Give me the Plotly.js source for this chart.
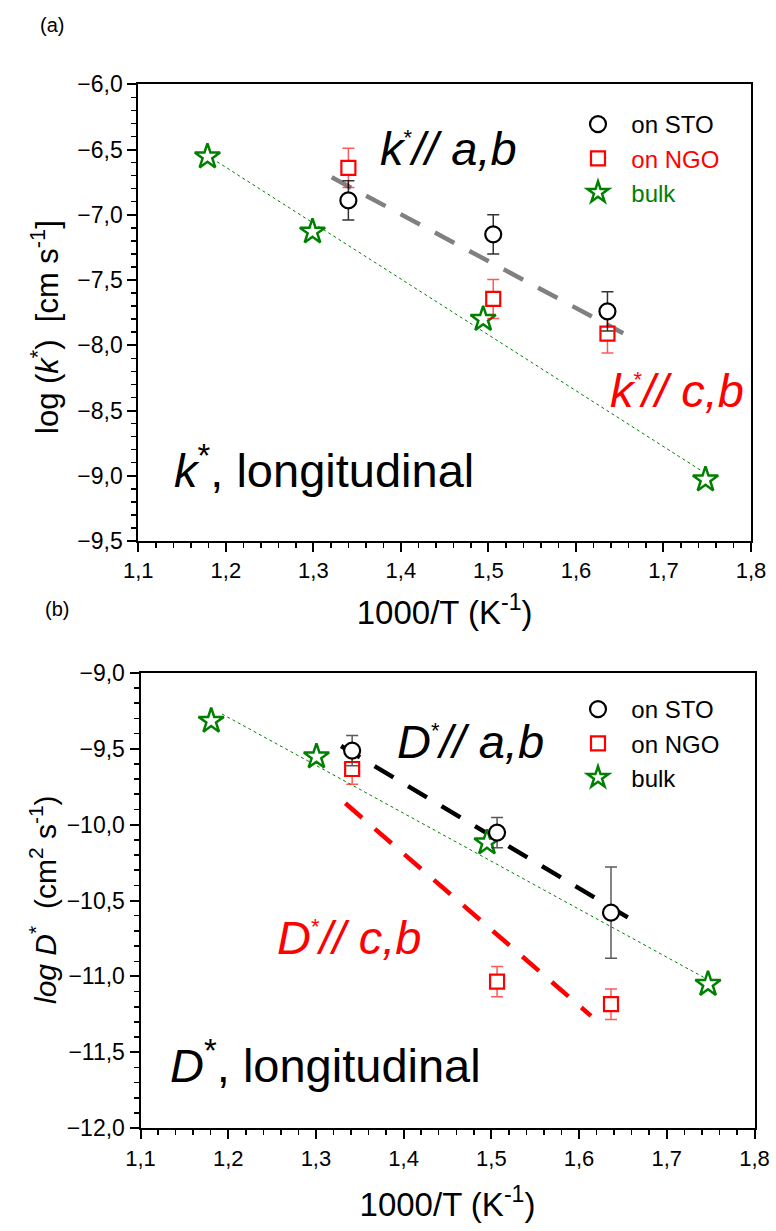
<!DOCTYPE html>
<html>
<head>
<meta charset="utf-8">
<script src="https://cdn.plot.ly/plotly-3.0.1.min.js"></script>
<style>html,body{margin:0;padding:0;background:#fff;}</style>
</head>
<body>
<div id="chart" style="width:776px;height:1231px;"></div>
<script>
// ---------- Panel (a): surface exchange coefficient k* ----------
const xA_sto  = [1.340, 1.5055, 1.636];
const yA_sto  = [-6.89, -7.15, -7.74];
const eA_sto  = [0.15, 0.15, 0.15];
const xA_ngo  = [1.340, 1.5055, 1.636];
const yA_ngo  = [-6.64, -7.645, -7.91];
const eA_ngo  = [0.15, 0.15, 0.15];
const xA_bulk = [1.179, 1.299, 1.494, 1.748];
const yA_bulk = [-6.555, -7.13, -7.80, -9.03];
const xA_bulkFit = [1.19, 1.742];
const yA_bulkFit = [-6.593, -8.956];
const xA_abFit = [1.321, 1.654];
const yA_abFit = [-6.713, -7.908];

// ---------- Panel (b): diffusion coefficient D* ----------
const xB_sto  = [1.3413, 1.5065, 1.6364];
const yB_sto  = [-9.513, -10.053, -10.58];
const eB_sto  = [0.10, 0.10, 0.30];
const xB_ngo  = [1.3413, 1.5065, 1.6364];
const yB_ngo  = [-9.634, -11.034, -11.183];
const eB_ngo  = [0.10, 0.10, 0.10];
const xB_bulk = [1.1806, 1.3006, 1.495, 1.747];
const yB_bulk = [-9.318, -9.553, -10.119, -11.051];
const xB_bulkFit = [1.193, 1.744];
const yB_bulkFit = [-9.272, -11.012];
const xB_abFit = [1.3287, 1.6603];
const yB_abFit = [-9.483, -10.628];
const xB_cbFit = [1.3336, 1.6136];
const yB_cbFit = [-9.86, -11.26];

const seriesNames = ['on STO', 'on NGO', 'bulk'];
const xTickLabels = ['1,1','1,2','1,3','1,4','1,5','1,6','1,7','1,8'];

// ---------- helpers ----------
const W = 776, H = 1231;
const px = v => v / W;
const py = v => 1 - v / H;
const FONT = 'Arial, "Liberation Sans", sans-serif';
const GREEN = '#008000';
const RED = '#ff0000';
const PAD = '\u00a0\u00a0';

function fitLine(x, y, xa, ya, color, width, dash) {
  return {x: x, y: y, xaxis: xa, yaxis: ya, mode: 'lines', showlegend: false,
          hoverinfo: 'skip', line: {color: color, width: width, dash: dash}};
}
function pts(x, y, err, xa, ya, leg, name, rank, symbol, size, color, ecolor, lw) {
  const t = {x: x, y: y, xaxis: xa, yaxis: ya, mode: 'markers', name: name,
    legend: leg, legendrank: rank,
    marker: {symbol: symbol, size: size, color: '#ffffff',
             line: {color: color, width: lw}}};
  if (err) t.error_y = {type: 'data', array: err, visible: true, color: ecolor,
                        thickness: 1.5, width: 6};
  return t;
}
const colored = (c, s) => '<span style="color:' + c + '">' + PAD + s + '</span>';

const traces = [
  // panel a
  fitLine(xA_bulkFit, yA_bulkFit, 'x', 'y', GREEN, 1, '3px,3px'),
  fitLine(xA_abFit, yA_abFit, 'x', 'y', '#808080', 4.5, '22px,17px'),
  pts(xA_bulk, yA_bulk, null, 'x', 'y', 'legend', colored(GREEN, seriesNames[2]), 3,
      'star', 19, GREEN, null, 2.5),
  pts(xA_ngo, yA_ngo, eA_ngo, 'x', 'y', 'legend', colored(RED, seriesNames[1]), 2,
      'square', 14, RED, 'rgba(255,0,0,0.65)', 2.2),
  pts(xA_sto, yA_sto, eA_sto, 'x', 'y', 'legend', PAD + seriesNames[0], 1,
      'circle', 16, '#000', 'rgba(0,0,0,0.8)', 2.2),
  // panel b
  fitLine(xB_bulkFit, yB_bulkFit, 'x2', 'y2', GREEN, 1, '3px,3px'),
  fitLine(xB_abFit, yB_abFit, 'x2', 'y2', '#000', 4.5, '22px,17px'),
  fitLine(xB_cbFit, yB_cbFit, 'x2', 'y2', RED, 4.5, '22px,17px'),
  pts(xB_bulk, yB_bulk, null, 'x2', 'y2', 'legend2', PAD + seriesNames[2], 3,
      'star', 19, GREEN, null, 2.5),
  pts(xB_ngo, yB_ngo, eB_ngo, 'x2', 'y2', 'legend2', PAD + seriesNames[1], 2,
      'square', 14, RED, 'rgba(255,0,0,0.65)', 2.2),
  pts(xB_sto, yB_sto, eB_sto, 'x2', 'y2', 'legend2', PAD + seriesNames[0], 1,
      'circle', 16, '#000', 'rgba(60,60,60,0.85)', 2.2)
];

function xAxis(dom, anchor, standoff) {
  return {domain: dom, anchor: anchor, range: [1.1, 1.8], tickmode: 'array',
    tickvals: [1.1,1.2,1.3,1.4,1.5,1.6,1.7,1.8], ticktext: xTickLabels,
    ticks: 'outside', ticklen: 9, tickwidth: 2, tickcolor: '#000',
    linewidth: 2, linecolor: '#000', mirror: true, showgrid: false, zeroline: false,
    minor: {dtick: 0.02, tick0: 1.1, ticks: 'outside', ticklen: 5, tickwidth: 1.5,
            tickcolor: '#000', showgrid: false},
    tickfont: {family: FONT, size: 22, color: '#000'},
    title: {text: '1000/T (K<sup>-1</sup>)', font: {family: FONT, size: 33, color: '#000'},
            standoff: standoff}};
}
function yAxis(dom, anchor, rng) {
  return {domain: dom, anchor: anchor, range: rng, dtick: 0.5, tick0: rng[0],
    tickformat: '.1f', ticks: 'outside', ticklen: 9, tickwidth: 2, tickcolor: '#000',
    linewidth: 2, linecolor: '#000', mirror: true, showgrid: false, zeroline: false,
    minor: {dtick: 0.1, ticks: 'outside', ticklen: 5, tickwidth: 1.5,
            tickcolor: '#000', showgrid: false},
    tickfont: {family: FONT, size: 23, color: '#000'}};
}

function ann(text, x, y, size, color, opts) {
  return Object.assign({text: text, x: px(x), y: py(y), xref: 'paper', yref: 'paper',
    showarrow: false, xanchor: 'left', yanchor: 'middle',
    font: {family: FONT, size: size, color: color}}, opts || {});
}
const STAR_S = '<sup><span style="font-size:22px">*</span></sup>';

const layout = {
  width: W, height: H, margin: {l: 0, r: 0, t: 0, b: 0},
  paper_bgcolor: '#fff', plot_bgcolor: '#fff', separators: ', ',
  font: {family: FONT, color: '#000'},
  xaxis: xAxis([px(138.3), px(751)], 'y', 18),
  yaxis: yAxis([py(541), py(84.3)], 'x', [-9.5, -6.0]),
  xaxis2: xAxis([px(140.5), px(754.5)], 'y2', 23),
  yaxis2: yAxis([py(1128.3), py(672.7)], 'x2', [-12.0, -9.0]),
  legend: {x: px(578), y: py(102), xanchor: 'left', yanchor: 'top',
           bgcolor: 'rgba(0,0,0,0)', font: {family: FONT, size: 24, color: '#000'},
           itemwidth: 30, tracegroupgap: 0},
  legend2: {x: px(578), y: py(687), xanchor: 'left', yanchor: 'top',
           bgcolor: 'rgba(0,0,0,0)', font: {family: FONT, size: 24, color: '#000'},
           itemwidth: 30, tracegroupgap: 0},
  annotations: [
    ann('(a)', 52, 25, 20, '#000', {xanchor: 'center'}),
    ann('(b)', 57, 609, 20, '#000', {xanchor: 'center'}),
    ann('<i>k</i>' + STAR_S + '<i>// a,b</i>', 378, 148, 47, '#000'),
    ann('<i>k</i>' + STAR_S + '<i>// c,b</i>', 608, 390, 47, RED),
    ann('<i>k</i><sup>*</sup>, longitudinal', 172, 467, 47, '#000'),
    ann('<i>D</i>' + STAR_S + '<i>// a,b</i>', 395, 741, 47, '#000'),
    ann('<i>D</i>' + STAR_S + '<i>// c,b</i>', 275, 937, 47, RED),
    ann('<i>D</i><sup>*</sup>, longitudinal', 168, 1062, 47, '#000'),
    ann('log (<i>k</i><sup>*</sup>)  [cm s<sup>-1</sup>]', 45, 327, 31, '#000',
        {xanchor: 'center', textangle: -90}),
    ann('<i>log D</i><sup>*</sup>  (cm<sup>2</sup> s<sup>-1</sup>)', 43, 900, 30, '#000',
        {xanchor: 'center', textangle: -90})
  ]
};

Plotly.newPlot('chart', traces, layout, {displayModeBar: false, staticPlot: true});
</script>
</body>
</html>
